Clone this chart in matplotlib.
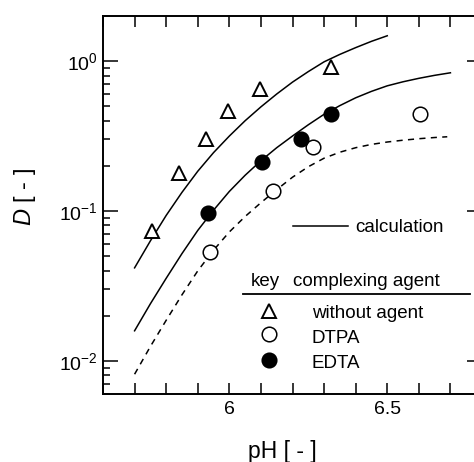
import numpy as np
import matplotlib
matplotlib.use("Agg")
import matplotlib.pyplot as plt
from matplotlib.ticker import MultipleLocator, LogLocator, NullFormatter, FixedLocator

plt.rcParams["font.family"] = ["Liberation Sans", "DejaVu Sans"]
plt.rcParams["mathtext.fontset"] = "custom"
plt.rcParams["mathtext.rm"] = "Liberation Sans"
plt.rcParams["mathtext.it"] = "Liberation Sans:italic"
plt.rcParams["axes.unicode_minus"] = False

# measured points
ph_without = [5.755, 5.841, 5.927, 5.996, 6.096, 6.323]
d_without = [0.074, 0.178, 0.300, 0.464, 0.647, 0.912]

ph_dtpa = [5.940, 6.138, 6.266, 6.603]
d_dtpa = [0.0533, 0.136, 0.268, 0.445]

ph_edta = [5.934, 6.103, 6.227, 6.323]
d_edta = [0.097, 0.212, 0.303, 0.443]

# calculated curves
ph_calc_without = [5.70, 5.75, 5.80, 5.85, 5.90, 5.95, 6.00, 6.05, 6.10,
                   6.15, 6.20, 6.25, 6.30, 6.35, 6.40, 6.45, 6.50]
d_calc_without = [0.0417, 0.0631, 0.0933, 0.133, 0.184, 0.245, 0.316, 0.400,
                  0.495, 0.603, 0.724, 0.851, 0.989, 1.109, 1.230, 1.355, 1.476]

ph_calc_edta = [5.70, 5.75, 5.80, 5.85, 5.90, 5.95, 6.00, 6.05, 6.10, 6.15,
                6.20, 6.25, 6.30, 6.35, 6.40, 6.45, 6.50, 6.55, 6.60, 6.65, 6.70]
d_calc_edta = [0.01585, 0.0240, 0.0355, 0.0519, 0.0741, 0.1012, 0.1349,
               0.1730, 0.2163, 0.2642, 0.3162, 0.3758, 0.4416, 0.5047,
               0.5689, 0.6281, 0.6839, 0.7278, 0.7674, 0.8035, 0.8356]

ph_calc_dtpa = [5.70, 5.75, 5.80, 5.85, 5.90, 5.95, 6.00, 6.05, 6.10, 6.15,
                6.20, 6.25, 6.30, 6.35, 6.40, 6.45, 6.50, 6.55, 6.60, 6.65, 6.69]
d_calc_dtpa = [0.00813, 0.01245, 0.01862, 0.02754, 0.0398, 0.0547, 0.0724,
               0.0918, 0.1135, 0.1387, 0.1679, 0.1972, 0.2249, 0.2466,
               0.2642, 0.2780, 0.2884, 0.2965, 0.3034, 0.3090, 0.3126]

fig = plt.figure(figsize=(4.74, 4.62), dpi=100)
ax = fig.add_axes([103 / 474, 68 / 462, 379 / 474, 378 / 462])

ax.plot(ph_calc_without, d_calc_without, color="black", lw=1.1)
ax.plot(ph_calc_edta, d_calc_edta, color="black", lw=1.1)
ax.plot(ph_calc_dtpa, d_calc_dtpa, color="black", lw=1.1, dashes=(4, 3.5))

ax.plot(ph_without, d_without, ls="none", marker="^", ms=10, mfc="white",
        mec="black", mew=1.4)
ax.plot(ph_dtpa, d_dtpa, ls="none", marker="o", ms=10.5, mfc="white",
        mec="black", mew=1.1)
ax.plot(ph_edta, d_edta, ls="none", marker="o", ms=10.5, mfc="black",
        mec="black", mew=1.1)

ax.set_yscale("log")
ax.set_xlim(5.6, 6.8)
ax.set_ylim(0.006, 2)

ax.xaxis.set_major_locator(FixedLocator([6.0, 6.5]))
ax.set_xticklabels(["6", "6.5"])
ax.xaxis.set_minor_locator(MultipleLocator(0.1))
ax.yaxis.set_major_locator(LogLocator(base=10))
ax.yaxis.set_minor_locator(LogLocator(base=10, subs=np.arange(2, 10)))
ax.yaxis.set_minor_formatter(NullFormatter())

ax.tick_params(axis="both", which="both", direction="in", top=True, right=True,
               width=1.1, labelsize=14)
ax.tick_params(axis="x", which="both", length=8, pad=5)
ax.tick_params(axis="y", which="major", length=11, pad=4)
ax.tick_params(axis="y", which="minor", length=5)
for s in ax.spines.values():
    s.set_linewidth(1.4)

ax.set_xlabel("pH [ - ]", fontsize=16.5)
ax.xaxis.set_label_coords(0.474, -0.122)
ax.set_ylabel("$D$ [ - ]", fontsize=17)
ax.yaxis.set_label_coords(-0.172, 0.52)

# key
tr = ax.transAxes
ax.plot([0.501, 0.646], [0.444, 0.444], color="black", lw=1.1, transform=tr)
ax.text(0.665, 0.429, "calculation", transform=tr, fontsize=13.5, va="baseline")
ax.text(0.390, 0.286, "key", transform=tr, fontsize=13.5, va="baseline")
ax.text(0.501, 0.286, "complexing agent", transform=tr, fontsize=13.5, va="baseline")
ax.plot([0.369, 0.969], [0.2646, 0.2646], color="black", lw=1.3, transform=tr,
        clip_on=False)
key_y = [0.2196, 0.1587, 0.0899]
key_txt = [0.201, 0.136, 0.069]
ax.plot([0.438], [key_y[0]], marker="^", ms=10, mfc="white", mec="black",
        mew=1.4, transform=tr)
ax.plot([0.438], [key_y[1]], marker="o", ms=10.5, mfc="white", mec="black",
        mew=1.1, transform=tr)
ax.plot([0.438], [key_y[2]], marker="o", ms=10.5, mfc="black", mec="black",
        mew=1.1, transform=tr)
for y, t in zip(key_txt, ["without agent", "DTPA", "EDTA"]):
    ax.text(0.551, y, t, transform=tr, fontsize=13.5, va="baseline")

fig.savefig("out.png", dpi=100)
